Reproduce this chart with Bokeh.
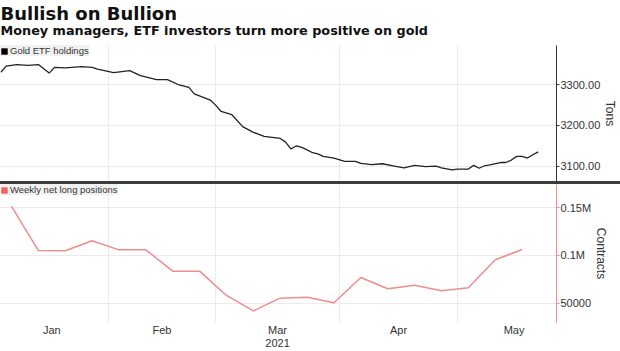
import numpy as np
from bokeh.plotting import figure
from bokeh.models import (Range1d, FixedTicker, Legend, LegendItem, Div, Label,
                          LinearAxis)
from bokeh.layouts import column
from bokeh.embed import file_html
from bokeh.resources import INLINE

title_text = "Bullish on Bullion"
subtitle_text = "Money managers, ETF investors turn more positive on gold"

gold_dates = [
    "2021-01-04", "2021-01-05", "2021-01-07", "2021-01-11", "2021-01-13", "2021-01-15",
    "2021-01-18", "2021-01-20", "2021-01-25", "2021-01-27", "2021-01-28", "2021-02-02",
    "2021-02-05", "2021-02-09", "2021-02-12", "2021-02-16", "2021-02-18", "2021-02-22",
    "2021-02-23", "2021-02-26", "2021-03-01", "2021-03-02", "2021-03-04", "2021-03-08",
    "2021-03-10", "2021-03-12", "2021-03-17", "2021-03-18", "2021-03-19", "2021-03-22",
    "2021-03-23", "2021-03-24", "2021-03-25", "2021-03-26", "2021-03-29", "2021-03-31",
    "2021-04-02", "2021-04-06", "2021-04-07", "2021-04-09", "2021-04-13", "2021-04-15",
    "2021-04-19", "2021-04-21", "2021-04-23", "2021-04-27", "2021-04-28", "2021-04-30",
    "2021-05-03", "2021-05-05", "2021-05-06", "2021-05-07", "2021-05-10", "2021-05-11",
    "2021-05-13", "2021-05-14", "2021-05-17", "2021-05-18", "2021-05-19", "2021-05-20",
    "2021-05-21", "2021-05-24",
]
gold_tons = [
    3330, 3345, 3349, 3347, 3349, 3328,
    3342, 3341, 3344, 3342, 3338, 3329,
    3334, 3322, 3312, 3312, 3300, 3293,
    3277, 3262, 3249, 3234, 3226, 3197,
    3183, 3173, 3168, 3159, 3142, 3150,
    3146, 3140, 3133, 3130, 3124, 3120,
    3112, 3112, 3107, 3104, 3106, 3101,
    3096, 3102, 3099, 3100, 3096, 3091,
    3093, 3093, 3102, 3095, 3101, 3103,
    3109, 3109, 3115, 3124, 3124, 3120,
    3128, 3135,
]

cot_dates = [
    "2021-01-06", "2021-01-13", "2021-01-20", "2021-01-27", "2021-02-03", "2021-02-10",
    "2021-02-17", "2021-02-24", "2021-03-03", "2021-03-10", "2021-03-17", "2021-03-24",
    "2021-03-31", "2021-04-07", "2021-04-14", "2021-04-21", "2021-04-28", "2021-05-05",
    "2021-05-12", "2021-05-19",
]
cot_contracts = [
    151500, 105200, 104900, 115400, 105900, 105900,
    83600, 83600, 58100, 42000, 55300, 56300,
    50400, 76900, 65100, 68900, 63000, 66100,
    95500, 106300,
]

month_starts = ["2021-01-01", "2021-02-01", "2021-03-01", "2021-04-01", "2021-05-01", "2021-06-01"]
month_labels = ["Jan", "Feb", "Mar", "Apr", "May"]
year_label = "2021"
year_month_index = 2
tons_ticks = [3100, 3200, 3300]
tons_labels = ["3100.00", "3200.00", "3300.00"]
contract_ticks = [50000, 100000, 150000]
contract_labels = ["50000", "0.1M", "0.15M"]

legend_gold = "Gold ETF holdings"
legend_cot = "Weekly net long positions"


def tday(d):
    # trading-day (weekday) index counted from 2021-01-01
    return float(np.busday_count("2021-01-01", d))


gold_x = [tday(d) for d in gold_dates]
cot_x = [tday(d) for d in cot_dates]
ms = [tday(d) for d in month_starts]
grid_ticks = ms[1:-1]
label_ticks = [(ms[i] + ms[i + 1]) / 2 for i in range(len(month_labels))]

TFONT = "DejaVu Sans"
FONT = "Liberation Sans"
TXT = "#333333"
GRID = "#ebebef"
GOLD_C = "#222222"
RED_LINE = "#f08c8c"
RED_SQ = "#f06262"

x_range = Range1d(0.95, 104.4)
W = 620
HEAD_H = 45

# ---------- header (title + subtitle) ----------
head = figure(width=W, height=HEAD_H, output_backend="svg", toolbar_location=None,
              title=None, x_axis_location=None, y_axis_location=None,
              x_range=Range1d(0, 1), y_range=Range1d(0, 1),
              min_border_left=0, min_border_right=0, min_border_top=0, min_border_bottom=0)
head.outline_line_color = None
head.xgrid.visible = False
head.ygrid.visible = False
head.border_fill_color = "white"
head.background_fill_color = "white"
head.add_layout(Label(x=0, y=HEAD_H - 13, x_units="screen", y_units="screen",
                      text=title_text, text_font=TFONT, text_font_size="18px",
                      text_font_style="bold", text_color="#111111",
                      text_baseline="alphabetic", text_align="left"))
head.add_layout(Label(x=0, y=HEAD_H - 29.5, x_units="screen", y_units="screen",
                      text=subtitle_text, text_font=TFONT, text_font_size="12.8px",
                      text_font_style="bold", text_color="#111111",
                      text_baseline="alphabetic", text_align="left"))


def style_common(p):
    p.min_border_left = 0
    p.min_border_right = 63
    p.outline_line_color = None
    p.background_fill_color = "white"
    p.border_fill_color = "white"
    p.xgrid.ticker = FixedTicker(ticks=grid_ticks)
    p.xgrid.grid_line_color = GRID
    p.ygrid.grid_line_color = GRID


# ---------- top panel ----------
top = figure(width=W, height=136, x_range=x_range, y_range=Range1d(3062.5, 3395.6),
             output_backend="svg", toolbar_location=None, title=None,
             x_axis_location=None, y_axis_location="right")
style_common(top)
top.min_border_top = 0
top.min_border_bottom = 0

top.line(gold_x, gold_tons, line_color=GOLD_C, line_width=1.3)
gq = top.quad(left=[np.nan], right=[np.nan], top=[np.nan], bottom=[np.nan],
              fill_color="black", line_color=None)

ya = top.yaxis[0]
ya.ticker = FixedTicker(ticks=tons_ticks)
ya.major_label_overrides = dict(zip(tons_ticks, tons_labels))
ya.axis_label = "Tons"

# ---------- bottom panel ----------
bot = figure(width=W, height=167, x_range=x_range, y_range=Range1d(29770, 174400),
             output_backend="svg", toolbar_location=None, title=None,
             y_axis_location="right")
style_common(bot)
bot.min_border_top = 0
bot.min_border_bottom = 29

bot.line(cot_x, cot_contracts, line_color=RED_LINE, line_width=1.5)
rq = bot.quad(left=[np.nan], right=[np.nan], top=[np.nan], bottom=[np.nan],
              fill_color=RED_SQ, line_color=None)

yb = bot.yaxis[0]
yb.ticker = FixedTicker(ticks=contract_ticks)
yb.major_label_overrides = dict(zip(contract_ticks, contract_labels))
yb.axis_label = "Contracts"

xb = bot.xaxis[0]
xb.ticker = FixedTicker(ticks=label_ticks)
xb.major_label_overrides = dict(zip(label_ticks, month_labels))

xyear = LinearAxis(ticker=FixedTicker(ticks=[label_ticks[year_month_index]]),
                   major_label_overrides={label_ticks[year_month_index]: year_label})
bot.add_layout(xyear, "below")

for i, ax in enumerate((xb, xyear)):
    ax.axis_line_color = None
    ax.major_tick_line_color = None
    ax.minor_tick_line_color = None
    ax.major_tick_in = 0
    ax.major_tick_out = 0
    ax.major_label_standoff = 1 if i == 0 else 0
    ax.major_label_text_font = FONT
    ax.major_label_text_font_size = "11px"
    ax.major_label_text_color = TXT

for ax, col in ((ya, "#333333"), (yb, "#f08c8c")):
    ax.axis_line_color = col
    ax.major_tick_line_color = col
    ax.minor_tick_line_color = None
    ax.major_tick_in = 0
    ax.major_tick_out = 3
    ax.major_label_standoff = 1
    ax.major_label_text_font = FONT
    ax.major_label_text_font_size = "11px"
    ax.major_label_text_color = TXT
    ax.axis_label_text_font = FONT
    ax.axis_label_text_font_size = "12px"
    ax.axis_label_text_font_style = "normal"
    ax.axis_label_text_color = TXT
    ax.axis_label_standoff = 0


def add_legend(p, renderer, label):
    lg = Legend(items=[LegendItem(label=label, renderers=[renderer])],
                location="top_left", margin=0, padding=4, spacing=0,
                glyph_width=8, glyph_height=8, label_height=8, label_standoff=2,
                label_text_font=FONT, label_text_font_size="9.5px",
                label_text_color=TXT, background_fill_color="#f1f1f1",
                background_fill_alpha=1.0, border_line_color=None)
    p.add_layout(lg)


add_legend(top, gq, legend_gold)
add_legend(bot, rq, legend_cot)

sep = Div(text="", width=W, height=3, margin=0,
          styles={"background-color": "#3c3c3c", "margin": "0", "padding": "0"})

layout = column(head, top, sep, bot, spacing=0)

open("out.html", "w").write(file_html(layout, INLINE))
